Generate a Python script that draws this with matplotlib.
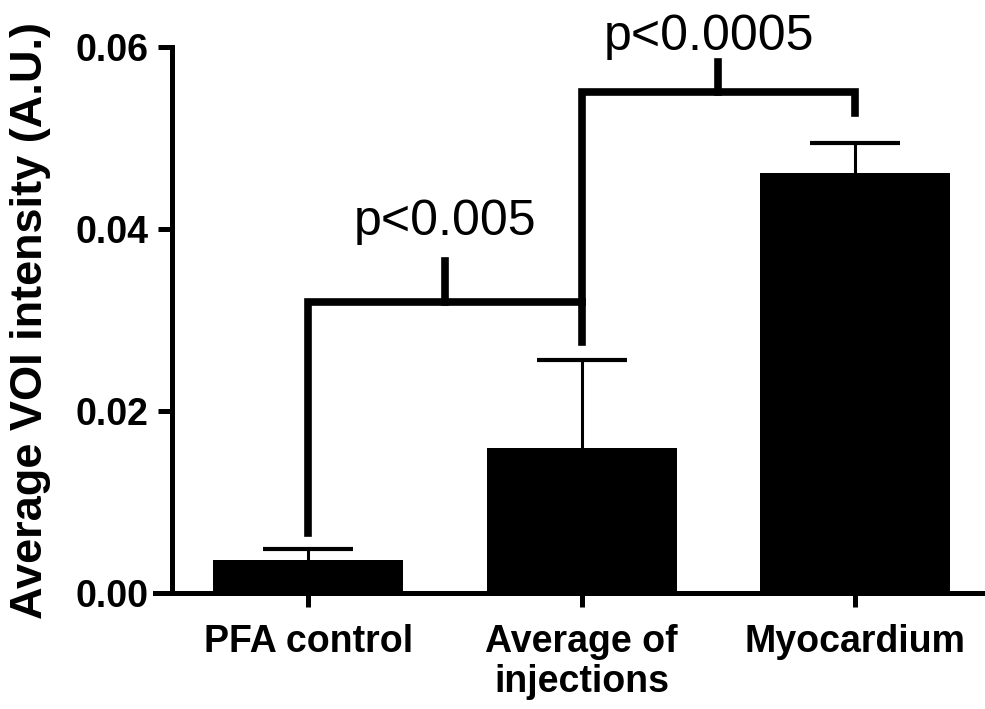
import numpy as np
import matplotlib.pyplot as plt

plt.rcParams['font.family'] = ['Liberation Sans', 'DejaVu Sans']

# Data
groups = ["PFA control", "Average of\ninjections", "Myocardium"]
means = [0.0036, 0.0159, 0.0462]
err_up = [0.0012, 0.0097, 0.0033]

# significance brackets: (left bar, right bar, bar height, left leg end, right leg end, label)
brackets = [
    (0, 1, 0.0320, 0.0066, 0.0276, "p<0.005"),
    (1, 2, 0.0551, 0.0320, 0.0527, "p<0.0005"),
]

fig = plt.figure(figsize=(9.85, 7.09), dpi=100)
ax = fig.add_axes([0.1574, 0.1636, 0.8426, 0.7701])

x = np.arange(len(groups))
ax.bar(x, means, width=0.695, color="black", zorder=3)
# upper error bars only
eb = ax.errorbar(x, means, yerr=[np.zeros(len(means)), err_up], fmt="none",
                 ecolor="black", elinewidth=2.2, capsize=32.5, capthick=3, zorder=1)
eb[1][0].set_visible(False)  # hide the lower cap

ax.set_xlim(-0.56, 2.475)
ax.set_ylim(0, 0.06)
ax.set_yticks([0.0, 0.02, 0.04, 0.06])
ax.set_yticklabels(["0.00", "0.02", "0.04", "0.06"])
ax.set_xticks(x)
ax.set_xticklabels(groups)

for side in ["top", "right"]:
    ax.spines[side].set_visible(False)
ax.spines["left"].set_position(("data", -0.497))
ax.spines["left"].set_linewidth(3.6)
ax.spines["bottom"].set_linewidth(3.6)
ax.tick_params(axis="both", width=3.6, length=10, direction="out")
ax.tick_params(axis="y", pad=7, labelsize=27)
ax.tick_params(axis="x", pad=12, labelsize=27)
for lab in ax.get_xticklabels() + ax.get_yticklabels():
    lab.set_fontweight("bold")
    lab.set_linespacing(1.15)

ax.set_ylabel("Average VOI intensity (A.U.)", fontsize=32.5, fontweight="bold")
ax.yaxis.set_label_coords(-0.125, 0.5)

lw = 5.5
for a, b, h, ya, yb, txt in brackets:
    mid = (a + b) / 2
    ax.plot([a, a, b, b], [ya, h, h, yb], color="black", lw=lw,
            solid_joinstyle="miter", clip_on=False, zorder=4)
    ax.plot([mid, mid], [h, h + 0.0045 if b == 1 else h + 0.0033],
            color="black", lw=lw, clip_on=False, zorder=4)
    ty = 0.0393 if b == 1 else 0.0597
    tx = mid if b == 1 else mid - 0.035
    ax.text(tx, ty, txt, ha="center", va="baseline", fontsize=36)

fig.savefig("out.png", dpi=100)
